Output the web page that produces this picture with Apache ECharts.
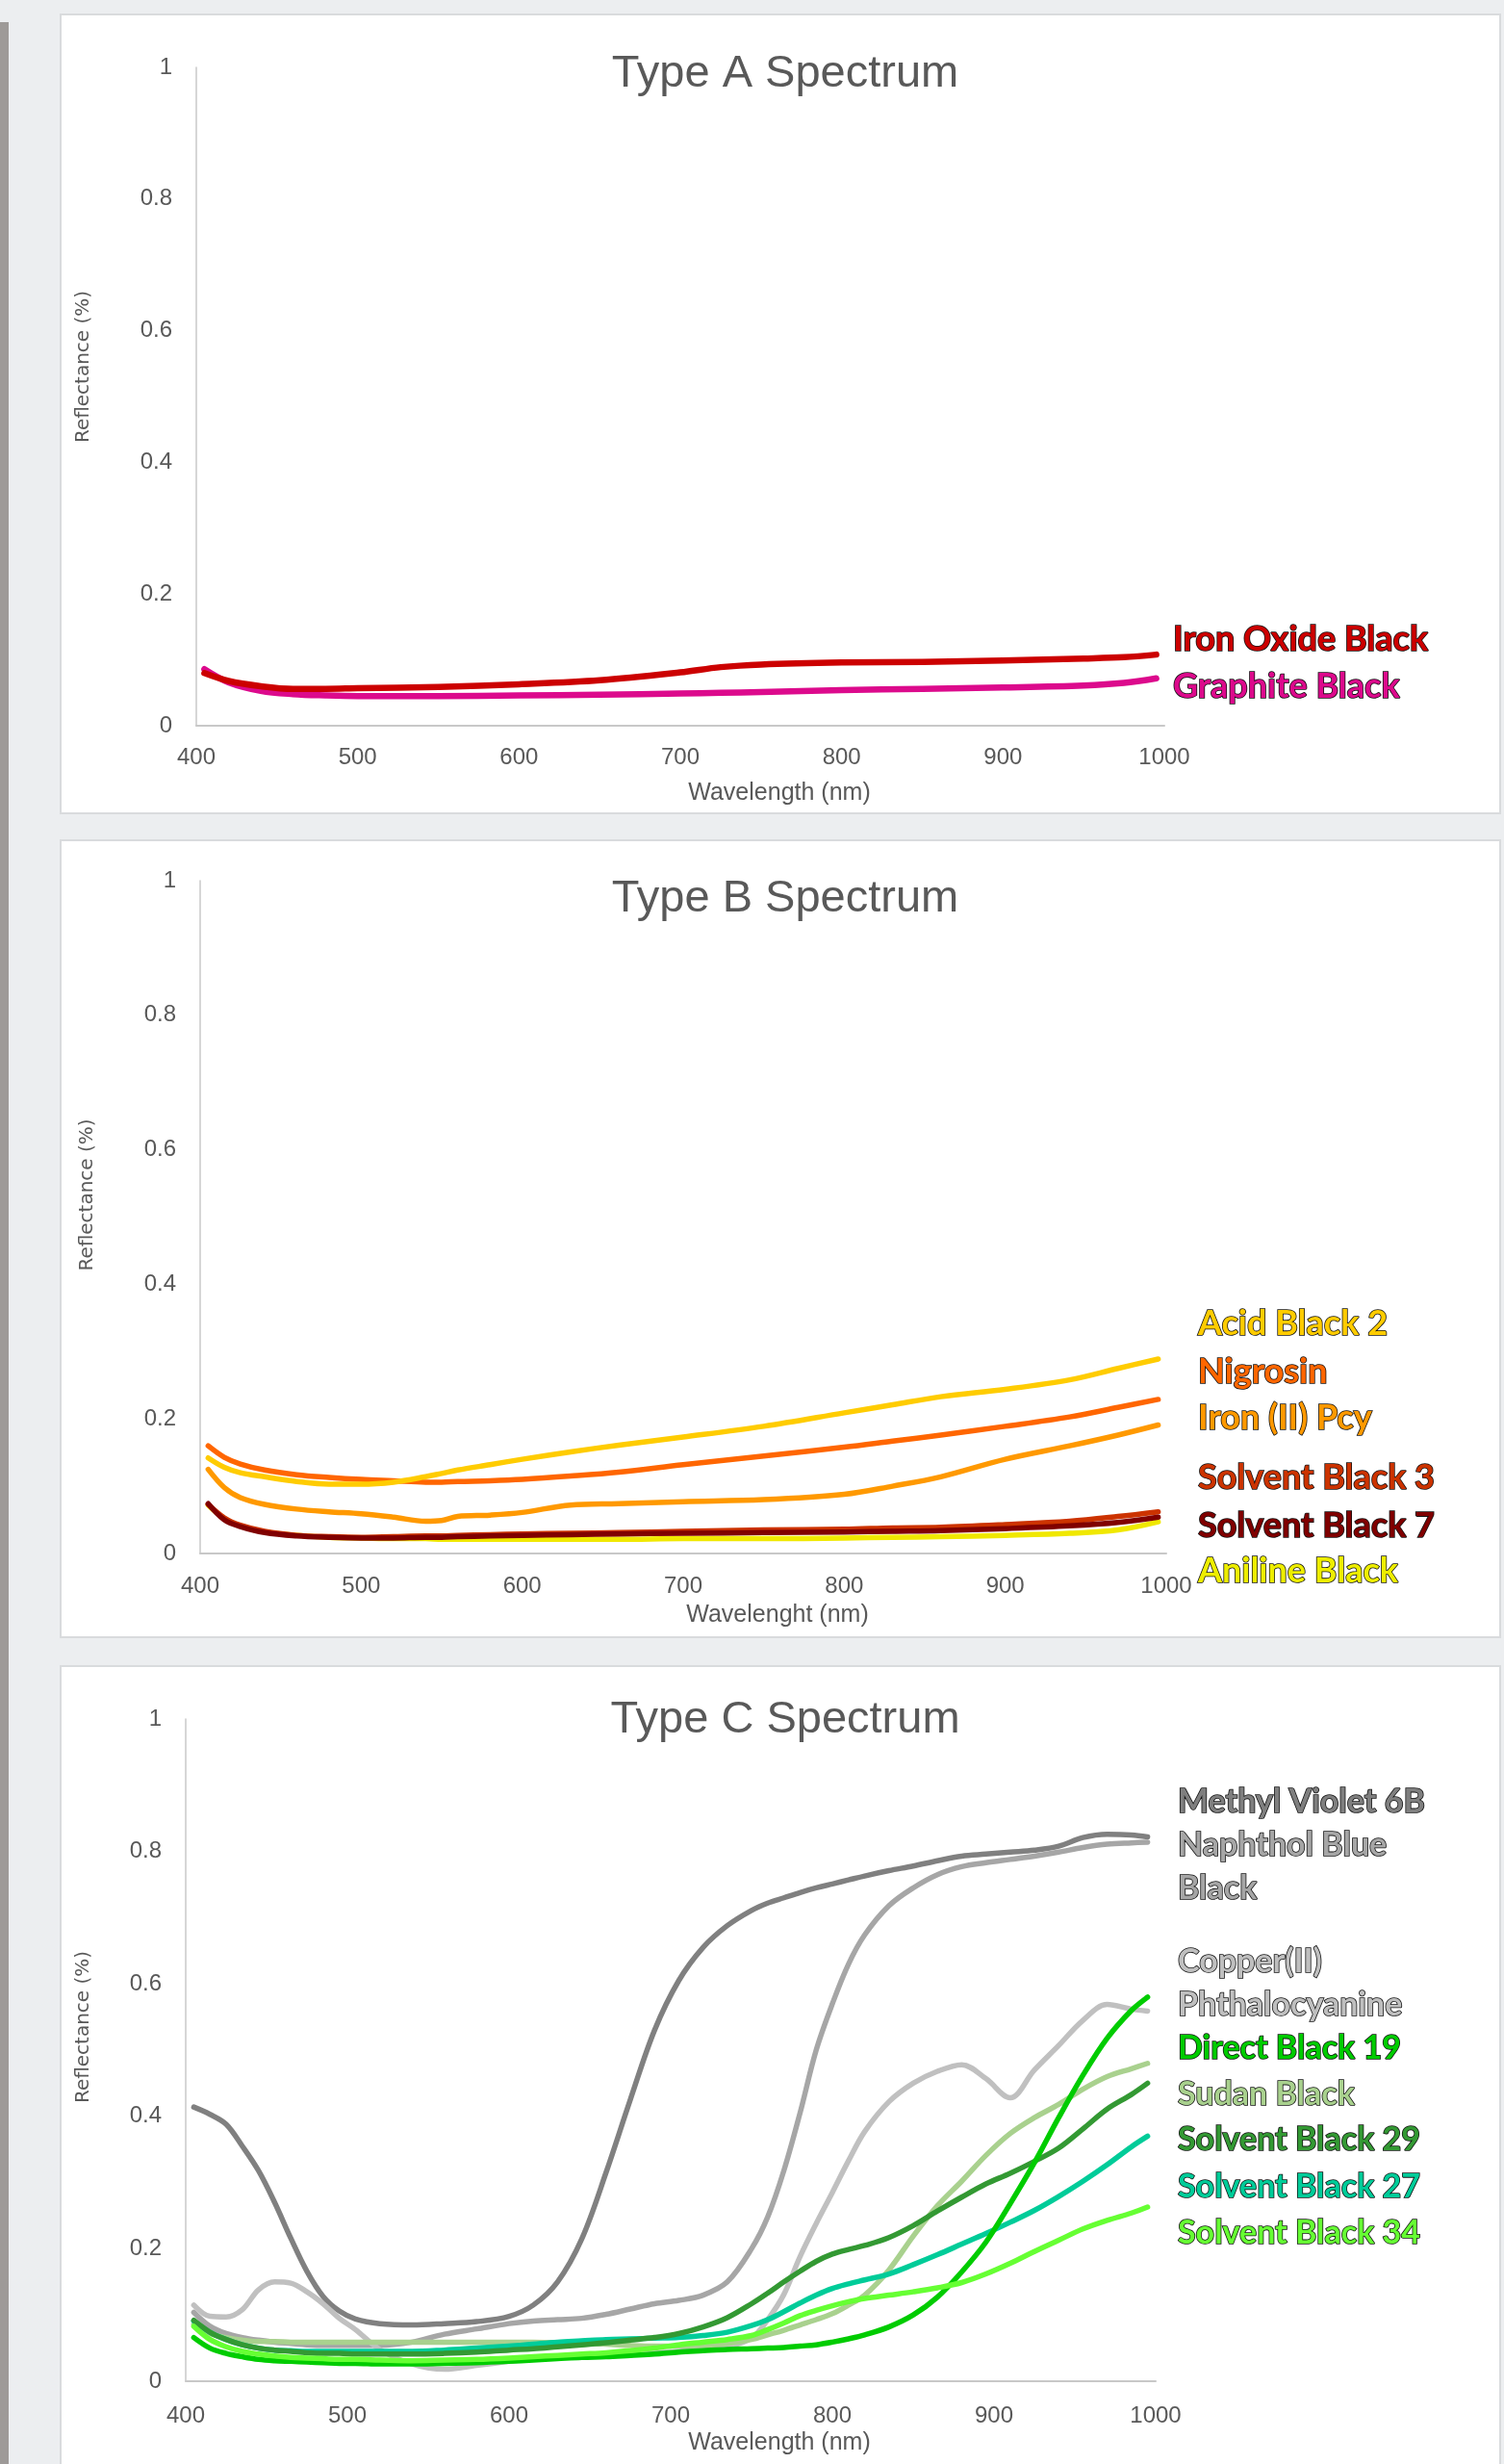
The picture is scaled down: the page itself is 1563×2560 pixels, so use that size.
<!DOCTYPE html>
<html>
<head>
<meta charset="utf-8">
<title>Spectrum</title>
<script src="https://cdn.jsdelivr.net/npm/echarts@6/dist/echarts.min.js"></script>
<style>
    html, body { margin: 0; padding: 0; background: #eceef0; }
    #page { position: relative; width: 1563px; height: 2560px; overflow: hidden; background: #eceef0; }
    .strip { position: absolute; left: 0; top: 23px; width: 9px; height: 2560px; background: #9e9a98; }
    .panel { position: absolute; left: 62px; width: 1498px; background: #fff; border: 2px solid #d9dbdd; box-sizing: border-box; }
    #main { position: absolute; left: 0; top: 0; width: 1563px; height: 2560px; }
</style>
</head>
<body>
<div id="page">
    <div class="strip"></div>
    <div class="panel" style="top: 14px; height: 832px"></div>
    <div class="panel" style="top: 872px; height: 830px"></div>
    <div class="panel" style="top: 1730px; height: 860px"></div>
    <div id="main"></div>
</div>
<script>
    // Type A spectrum
    var wlA = [405, 420, 440, 460, 480, 500, 550, 600, 650, 700, 725, 750, 800, 850, 900, 950, 975, 995];
    var ironOxideBlack = [0.080, 0.068, 0.060, 0.056, 0.056, 0.057, 0.059, 0.063, 0.069, 0.081, 0.089, 0.093, 0.096, 0.097, 0.099, 0.102, 0.104, 0.108];
    var graphiteBlack = [0.086, 0.066, 0.053, 0.048, 0.046, 0.045, 0.045, 0.046, 0.047, 0.049, 0.050, 0.051, 0.054, 0.056, 0.058, 0.061, 0.065, 0.072];

    // Type B spectrum
    var wlB = [405, 415, 425, 440, 460, 480, 500, 520, 540, 550, 560, 580, 600, 630, 660, 700, 750, 800, 830, 860, 900, 940, 970, 995];
    var acidBlack2 = [0.142, 0.128, 0.120, 0.114, 0.107, 0.103, 0.103, 0.106, 0.114, 0.119, 0.124, 0.132, 0.140, 0.151, 0.161, 0.173, 0.189, 0.209, 0.221, 0.233, 0.244, 0.258, 0.275, 0.289];
    var nigrosin = [0.160, 0.143, 0.133, 0.124, 0.117, 0.113, 0.110, 0.108, 0.106, 0.106, 0.107, 0.108, 0.110, 0.115, 0.121, 0.132, 0.145, 0.158, 0.167, 0.176, 0.189, 0.203, 0.217, 0.229];
    var ironPcy = [0.125, 0.098, 0.083, 0.073, 0.066, 0.062, 0.059, 0.054, 0.048, 0.049, 0.055, 0.057, 0.061, 0.072, 0.074, 0.077, 0.080, 0.088, 0.100, 0.114, 0.140, 0.160, 0.176, 0.191];
    var solventBlack3 = [0.073, 0.053, 0.042, 0.033, 0.027, 0.025, 0.024, 0.025, 0.026, 0.026, 0.027, 0.028, 0.029, 0.030, 0.031, 0.033, 0.035, 0.036, 0.038, 0.039, 0.043, 0.048, 0.055, 0.062];
    var solventBlack7 = [0.074, 0.050, 0.040, 0.031, 0.026, 0.024, 0.023, 0.023, 0.024, 0.024, 0.025, 0.026, 0.027, 0.028, 0.029, 0.030, 0.031, 0.032, 0.033, 0.034, 0.037, 0.041, 0.046, 0.054];
    var anilineBlack = [0.072, 0.052, 0.041, 0.032, 0.027, 0.024, 0.023, 0.022, 0.022, 0.021, 0.021, 0.021, 0.021, 0.021, 0.021, 0.022, 0.022, 0.023, 0.024, 0.025, 0.027, 0.030, 0.035, 0.047];

    // Type C spectrum
    var wlC = [405, 415, 425, 435, 445, 455, 465, 475, 485, 495, 505, 520, 540, 560, 580, 600, 615, 630, 645, 660, 675, 690, 705, 720, 735, 750, 760, 770, 780, 790, 800, 810, 820, 835, 850, 865, 880, 895, 910, 925, 940, 955, 970, 985, 995];
    var methylViolet = [0.414, 0.403, 0.388, 0.355, 0.318, 0.270, 0.216, 0.166, 0.128, 0.106, 0.094, 0.087, 0.085, 0.087, 0.090, 0.098, 0.115, 0.150, 0.215, 0.315, 0.425, 0.530, 0.605, 0.655, 0.688, 0.711, 0.722, 0.730, 0.738, 0.745, 0.751, 0.757, 0.763, 0.771, 0.778, 0.786, 0.793, 0.796, 0.799, 0.802, 0.808, 0.821, 0.826, 0.825, 0.822];
    var naphtholBlueBlack = [0.104, 0.083, 0.072, 0.066, 0.062, 0.059, 0.057, 0.055, 0.054, 0.054, 0.054, 0.054, 0.059, 0.071, 0.079, 0.087, 0.091, 0.093, 0.095, 0.101, 0.109, 0.117, 0.122, 0.130, 0.150, 0.200, 0.248, 0.318, 0.405, 0.500, 0.570, 0.630, 0.674, 0.718, 0.745, 0.765, 0.777, 0.783, 0.788, 0.793, 0.799, 0.806, 0.811, 0.813, 0.814];
    var copperPcy = [0.115, 0.098, 0.097, 0.108, 0.138, 0.150, 0.148, 0.135, 0.117, 0.095, 0.078, 0.048, 0.026, 0.018, 0.024, 0.030, 0.034, 0.036, 0.038, 0.040, 0.041, 0.043, 0.045, 0.048, 0.052, 0.065, 0.093, 0.131, 0.188, 0.238, 0.285, 0.333, 0.377, 0.422, 0.450, 0.468, 0.478, 0.457, 0.428, 0.470, 0.507, 0.545, 0.569, 0.562, 0.559];
    var directBlack19 = [0.066, 0.050, 0.042, 0.037, 0.033, 0.031, 0.030, 0.029, 0.028, 0.027, 0.027, 0.026, 0.026, 0.027, 0.028, 0.030, 0.032, 0.034, 0.036, 0.037, 0.039, 0.041, 0.044, 0.046, 0.048, 0.049, 0.050, 0.051, 0.053, 0.055, 0.059, 0.064, 0.070, 0.082, 0.100, 0.127, 0.165, 0.210, 0.268, 0.330, 0.398, 0.462, 0.518, 0.560, 0.580];
    var sudanBlack = [0.086, 0.072, 0.066, 0.062, 0.060, 0.060, 0.059, 0.059, 0.059, 0.059, 0.059, 0.059, 0.059, 0.059, 0.059, 0.059, 0.059, 0.058, 0.057, 0.056, 0.054, 0.053, 0.053, 0.054, 0.057, 0.063, 0.070, 0.077, 0.085, 0.093, 0.102, 0.115, 0.130, 0.168, 0.219, 0.265, 0.302, 0.341, 0.374, 0.398, 0.418, 0.441, 0.460, 0.472, 0.480];
    var solventBlack29 = [0.092, 0.074, 0.063, 0.055, 0.050, 0.047, 0.045, 0.043, 0.042, 0.042, 0.041, 0.041, 0.041, 0.042, 0.044, 0.047, 0.049, 0.052, 0.055, 0.058, 0.062, 0.066, 0.072, 0.082, 0.096, 0.117, 0.133, 0.150, 0.166, 0.181, 0.192, 0.199, 0.205, 0.217, 0.235, 0.257, 0.278, 0.298, 0.314, 0.332, 0.352, 0.381, 0.411, 0.433, 0.450];
    var solventBlack27 = [0.091, 0.074, 0.063, 0.055, 0.050, 0.047, 0.046, 0.045, 0.045, 0.045, 0.045, 0.045, 0.045, 0.047, 0.050, 0.053, 0.056, 0.059, 0.061, 0.063, 0.064, 0.065, 0.066, 0.069, 0.074, 0.084, 0.093, 0.105, 0.118, 0.130, 0.140, 0.147, 0.153, 0.162, 0.176, 0.191, 0.207, 0.223, 0.240, 0.258, 0.279, 0.302, 0.327, 0.354, 0.370];
    var solventBlack34 = [0.083, 0.063, 0.052, 0.045, 0.041, 0.038, 0.036, 0.035, 0.034, 0.033, 0.033, 0.032, 0.031, 0.032, 0.033, 0.035, 0.037, 0.039, 0.041, 0.043, 0.046, 0.050, 0.055, 0.059, 0.063, 0.069, 0.078, 0.088, 0.099, 0.107, 0.114, 0.120, 0.125, 0.130, 0.135, 0.141, 0.149, 0.162, 0.178, 0.196, 0.213, 0.230, 0.243, 0.254, 0.263];

    var grey = '#595959';
    var tickFont = '"Liberation Sans", Arial, sans-serif';
    var labelFont = 'Lato, "Open Sans", sans-serif';

    function pairs(xs, ys) {
        return xs.map(function (x, i) {
            return [x, ys[i]];
        });
    }

    function line(name, idx, xs, ys, color, width) {
        return {
            name: name,
            type: 'line',
            xAxisIndex: idx,
            yAxisIndex: idx,
            data: pairs(xs, ys),
            showSymbol: false,
            smooth: 0.35,
            lineStyle: {color: color, width: width, cap: 'round', join: 'round'},
            itemStyle: {color: color}
        };
    }

    function xAxis(idx, nameName, shift, gap, margin) {
        return {
            gridIndex: idx,
            type: 'value',
            min: 400,
            max: 1000,
            interval: 100,
            name: nameName,
            nameLocation: 'middle',
            nameGap: gap,
            nameTextStyle: {color: grey, fontSize: 25, fontFamily: tickFont, padding: [0, 0, 0, shift * 2]},
            axisLine: {show: true, lineStyle: {color: '#c8c8c8', width: 2}},
            axisTick: {show: false},
            splitLine: {show: false},
            axisLabel: {
                color: grey, fontSize: 24, fontFamily: tickFont, margin: margin,
                formatter: function (v) {
                    return String(v);
                }
            }
        };
    }

    function yAxis(idx, shift, gap) {
        return {
            gridIndex: idx,
            type: 'value',
            min: 0,
            max: 1,
            interval: 0.2,
            name: 'Reflectance (%)',
            nameLocation: 'middle',
            nameGap: gap,
            nameTextStyle: {color: grey, fontSize: 20, fontFamily: '"DejaVu Sans", sans-serif', padding: [0, 0, 0, shift * 2]},
            axisLine: {show: true, lineStyle: {color: '#c8c8c8', width: 1.5}},
            axisTick: {show: false},
            splitLine: {show: false},
            axisLabel: {color: grey, fontSize: 24, fontFamily: tickFont, margin: 25}
        };
    }

    function tag(text, x, y, color, size) {
        return {
            type: 'text',
            x: x,
            y: y,
            z: 100,
            style: {
                text: text,
                fill: color,
                stroke: '#111',
                lineWidth: 1.6,
                font: 'bold ' + size + 'px ' + labelFont,
                lineHeight: 45,
                textAlign: 'left',
                textVerticalAlign: 'middle',
                align: 'left',
                verticalAlign: 'middle'
            }
        };
    }

    function title(text, top) {
        return {
            text: text,
            left: 811,
            top: top,
            textAlign: 'center',
            textStyle: {color: grey, fontSize: 47, fontWeight: 'normal', fontFamily: tickFont}
        };
    }

    var chart = echarts.init(document.getElementById('main'), null, {renderer: 'canvas'});
    chart.setOption({
        animation: false,
        title: [
            title('Type A Spectrum', 49),
            title('Type B Spectrum', 906),
            title('Type C Spectrum', 1759)
        ],
        grid: [
            {left: 204, top: 70, width: 1006, height: 684},
            {left: 208, top: 915, width: 1004, height: 699},
            {left: 193, top: 1786, width: 1008, height: 688}
        ],
        xAxis: [
            xAxis(0, 'Wavelength (nm)', 103, 58, 21),
            xAxis(1, 'Wavelenght (nm)', 98, 52, 22),
            xAxis(2, 'Wavelength (nm)', 113, 52, 24)
        ],
        yAxis: [
            yAxis(0, 31, 107),
            yAxis(1, 23, 107),
            yAxis(2, 24, 96)
        ],
        series: [
            line('Graphite Black', 0, wlA, graphiteBlack, '#dc0a8c', 6.5),
            line('Iron Oxide Black', 0, wlA, ironOxideBlack, '#cc0000', 6.5),

            line('Aniline Black', 1, wlB, anilineBlack, '#f0e800', 5.5),
            line('Solvent Black 3', 1, wlB, solventBlack3, '#cc3300', 5.5),
            line('Solvent Black 7', 1, wlB, solventBlack7, '#800000', 5.5),
            line('Iron (II) Pcy', 1, wlB, ironPcy, '#ff9900', 5.5),
            line('Nigrosin', 1, wlB, nigrosin, '#ff6600', 5.5),
            line('Acid Black 2', 1, wlB, acidBlack2, '#ffcc00', 5.5),

            line('Methyl Violet 6B', 2, wlC, methylViolet, '#808080', 5.5),
            line('Naphthol Blue Black', 2, wlC, naphtholBlueBlack, '#a6a6a6', 5.5),
            line('Copper(II) Phthalocyanine', 2, wlC, copperPcy, '#c0c0c0', 5.5),
            line('Sudan Black', 2, wlC, sudanBlack, '#a9d18e', 5.5),
            line('Solvent Black 27', 2, wlC, solventBlack27, '#00cc99', 5.5),
            line('Solvent Black 29', 2, wlC, solventBlack29, '#339933', 5.5),
            line('Direct Black 19', 2, wlC, directBlack19, '#00cc00', 5.5),
            line('Solvent Black 34', 2, wlC, solventBlack34, '#66ff33', 5.5)
        ],
        graphic: [
            tag('Iron Oxide Black', 1219, 664, '#cc0000', 36),
            tag('Graphite Black', 1219, 713, '#dc0a8c', 36),

            tag('Acid Black 2', 1245, 1375, '#ffcc00', 36),
            tag('Nigrosin', 1245, 1425, '#ff6600', 36),
            tag('Iron (II) Pcy', 1245, 1473, '#ff9900', 36),
            tag('Solvent Black 3', 1245, 1535, '#cc3300', 36),
            tag('Solvent Black 7', 1245, 1585, '#800000', 36),
            tag('Aniline Black', 1245, 1632, '#eeee00', 36),

            tag('Methyl Violet 6B', 1224, 1872, '#7f7f7f', 34),
            tag('Naphthol Blue\nBlack', 1224, 1940, '#a6a6a6', 34),
            tag('Copper(II)\nPhthalocyanine', 1224, 2061, '#bfbfbf', 34),
            tag('Direct Black 19', 1224, 2128, '#00cc00', 34),
            tag('Sudan Black', 1224, 2176, '#a9d18e', 34),
            tag('Solvent Black 29', 1224, 2223, '#339933', 34),
            tag('Solvent Black 27', 1224, 2272, '#00cc99', 34),
            tag('Solvent Black 34', 1224, 2320, '#66ff33', 34)
        ]
    });
</script>
</body>
</html>
